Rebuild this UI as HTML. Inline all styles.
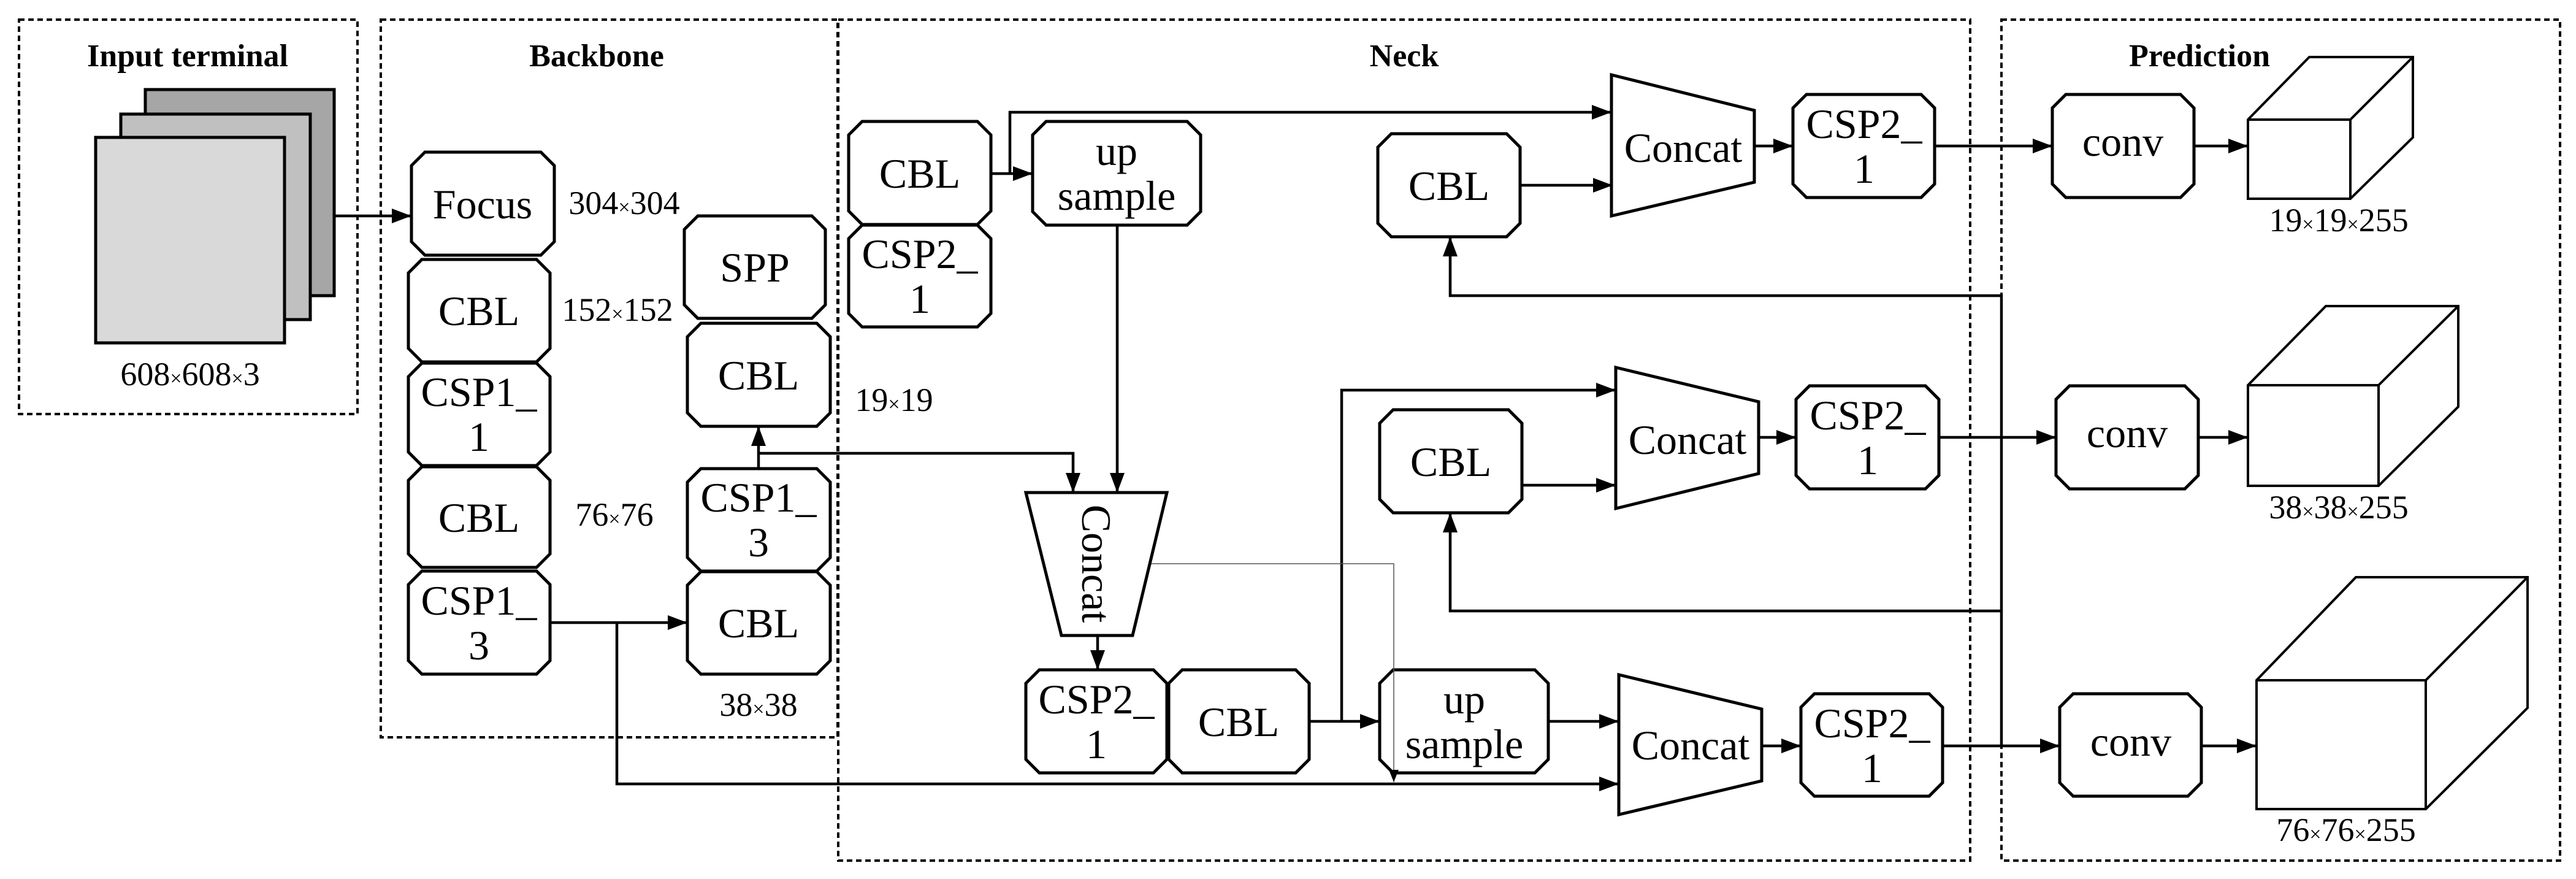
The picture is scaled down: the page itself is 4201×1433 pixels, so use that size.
<!DOCTYPE html>
<html><head><meta charset="utf-8"><style>
html,body{margin:0;padding:0;background:#fff}
svg{display:block}
text{font-family:"Liberation Serif",serif;fill:#000}
.t{font-size:68px;text-anchor:middle}
.h{font-size:52px;font-weight:bold;text-anchor:middle}
.s{font-size:54px;text-anchor:middle}
.x{font-size:34px}
.o{fill:#fff;stroke:#000;stroke-width:5}
.l{fill:none;stroke:#000;stroke-width:4.5}
.d{fill:none;stroke:#000;stroke-width:4;stroke-dasharray:9 6}
</style></head><body>
<svg width="4201" height="1433" viewBox="0 0 4201 1433" xmlns="http://www.w3.org/2000/svg">
<defs>
<marker id="a" markerUnits="userSpaceOnUse" markerWidth="34" markerHeight="26" refX="32" refY="12" orient="auto"><path d="M0,0 L32,12 L0,24 z" fill="#000"/></marker>
<marker id="b" markerUnits="userSpaceOnUse" markerWidth="22" markerHeight="18" refX="20" refY="8" orient="auto"><path d="M0,0 L20,8 L0,16 z" fill="#000"/></marker>
</defs>
<rect class="d" x="31" y="32" width="552" height="643"/>
<rect class="d" x="621" y="32" width="745" height="1170"/>
<rect class="d" x="1367" y="32" width="1846" height="1371"/>
<rect class="d" x="3264" y="32" width="911" height="1371"/>
<text class="h" x="306" y="108">Input terminal</text>
<text class="h" x="973" y="108">Backbone</text>
<text class="h" x="2290" y="108">Neck</text>
<text class="h" x="3587" y="108">Prediction</text>
<rect x="237" y="146" width="308" height="336" fill="#a6a6a6" stroke="#000" stroke-width="5"/>
<rect x="197" y="186" width="309" height="335" fill="#c0c0c0" stroke="#000" stroke-width="5"/>
<rect x="156" y="224" width="308" height="335" fill="#d9d9d9" stroke="#000" stroke-width="5"/>
<text class="s" x="310" y="628">608<tspan class="x">×</tspan>608<tspan class="x">×</tspan>3</text>

<g class="l">
<path d="M545,352 H671" marker-end="url(#a)"/>
<path d="M897,1015 H1121" marker-end="url(#a)"/>
<path d="M1006,1015 V1278 H2640" marker-end="url(#a)"/>
<path d="M1237,764 V695" marker-end="url(#a)"/>
<path d="M1237,739 H1750 V803" marker-end="url(#a)"/>
<path d="M1616,283 H1684" marker-end="url(#a)"/>
<path d="M1647,283 V183 H2628" marker-end="url(#a)"/>
<path d="M1822,367 V803" marker-end="url(#a)"/>
<path d="M1790,1036 V1092" marker-end="url(#a)"/>
<path d="M2135,1176 H2250" marker-end="url(#a)"/>
<path d="M2188,1176 V636 H2635" marker-end="url(#a)"/>
<path d="M2525,1176 H2640" marker-end="url(#a)"/>
<path d="M2479,302 H2630" marker-end="url(#a)"/>
<path d="M2482,791 H2635" marker-end="url(#a)"/>
<path d="M3264,1216 V482 H2365 V386" marker-end="url(#a)"/>
<path d="M3264,996 H2365 V836" marker-end="url(#a)"/>
<path d="M2861,238 H2924" marker-end="url(#a)"/>
<path d="M2868,713 H2929" marker-end="url(#a)"/>
<path d="M2873,1216 H2937" marker-end="url(#a)"/>
<path d="M3155,238 H3347" marker-end="url(#a)"/>
<path d="M3162,713 H3353" marker-end="url(#a)"/>
<path d="M3168,1216 H3359" marker-end="url(#a)"/>
<path d="M3578,238 H3666" marker-end="url(#a)"/>
<path d="M3585,713 H3666" marker-end="url(#a)"/>
<path d="M3590,1216 H3680" marker-end="url(#a)"/>
</g>

<polygon class="o" points="693,248 882,248 904,270 904,394 882,416 693,416 671,394 671,270"/>
<polygon class="o" points="688,423 875,423 897,445 897,568 875,590 688,590 666,568 666,445"/>
<polygon class="o" points="688,592 875,592 897,614 897,737 875,759 688,759 666,737 666,614"/>
<polygon class="o" points="688,761 875,761 897,783 897,903 875,925 688,925 666,903 666,783"/>
<polygon class="o" points="688,931 875,931 897,953 897,1077 875,1099 688,1099 666,1077 666,953"/>
<polygon class="o" points="1138,352 1324,352 1346,374 1346,497 1324,519 1138,519 1116,497 1116,374"/>
<polygon class="o" points="1143,527 1332,527 1354,549 1354,673 1332,695 1143,695 1121,673 1121,549"/>
<polygon class="o" points="1143,764 1332,764 1354,786 1354,909 1332,931 1143,931 1121,909 1121,786"/>
<polygon class="o" points="1143,932 1332,932 1354,954 1354,1077 1332,1099 1143,1099 1121,1077 1121,954"/>
<text class="t" x="787" y="356">Focus</text>
<text class="t" x="781" y="530">CBL</text>
<text class="t" x="781" y="662">CSP1_</text><text class="t" x="781" y="735">1</text>
<text class="t" x="781" y="867">CBL</text>
<text class="t" x="781" y="1002">CSP1_</text><text class="t" x="781" y="1075">3</text>
<text class="t" x="1231" y="459">SPP</text>
<text class="t" x="1237" y="635">CBL</text>
<text class="t" x="1237" y="834">CSP1_</text><text class="t" x="1237" y="907">3</text>
<text class="t" x="1237" y="1039">CBL</text>
<text class="s" x="1018" y="349">304<tspan class="x">×</tspan>304</text>
<text class="s" x="1007" y="523">152<tspan class="x">×</tspan>152</text>
<text class="s" x="1002" y="857">76<tspan class="x">×</tspan>76</text>
<text class="s" x="1237" y="1167">38<tspan class="x">×</tspan>38</text>
<text class="s" x="1458" y="670">19<tspan class="x">×</tspan>19</text>

<polygon class="o" points="1406,198 1594,198 1616,220 1616,344 1594,366 1406,366 1384,344 1384,220"/>
<polygon class="o" points="1406,367 1594,367 1616,389 1616,511 1594,533 1406,533 1384,511 1384,389"/>
<polygon class="o" points="1706,198 1936,198 1958,220 1958,345 1936,367 1706,367 1684,345 1684,220"/>
<polygon class="o" points="1695,1092 1881,1092 1903,1114 1903,1238 1881,1260 1695,1260 1673,1238 1673,1114"/>
<polygon class="o" points="1928,1092 2113,1092 2135,1114 2135,1238 2113,1260 1928,1260 1906,1238 1906,1114"/>
<polygon class="o" points="2272,1092 2503,1092 2525,1114 2525,1238 2503,1260 2272,1260 2250,1238 2250,1114"/>
<polygon class="o" points="2269,218 2457,218 2479,240 2479,364 2457,386 2269,386 2247,364 2247,240"/>
<polygon class="o" points="2272,668 2460,668 2482,690 2482,814 2460,836 2272,836 2250,814 2250,690"/>
<text class="t" x="1500" y="306">CBL</text>
<text class="t" x="1500" y="437">CSP2_</text><text class="t" x="1500" y="510">1</text>
<text class="t" x="1821" y="269">up</text><text class="t" x="1821" y="342">sample</text>
<text class="t" x="1788" y="1163">CSP2_</text><text class="t" x="1788" y="1236">1</text>
<text class="t" x="2020" y="1200">CBL</text>
<text class="t" x="2388" y="1163">up</text><text class="t" x="2388" y="1236">sample</text>
<text class="t" x="2363" y="326">CBL</text>
<text class="t" x="2366" y="776">CBL</text>
<path d="M1877,919 H2273 V1275" fill="none" stroke="#555" stroke-width="1.5" marker-end="url(#b)"/>

<polygon class="o" points="1673,803 1903,803 1847,1036 1731,1036"/>
<text class="t" transform="translate(1765,919) rotate(90)" x="0" y="0">Concat</text>
<polygon class="o" points="2628,122 2861,180 2861,297 2628,352"/>
<text class="t" x="2745" y="264">Concat</text>
<polygon class="o" points="2635,599 2868,655 2868,772 2635,829"/>
<text class="t" x="2752" y="740">Concat</text>
<polygon class="o" points="2640,1100 2873,1156 2873,1273 2640,1328"/>
<text class="t" x="2757" y="1238">Concat</text>

<polygon class="o" points="2946,154 3133,154 3155,176 3155,300 3133,322 2946,322 2924,300 2924,176"/>
<polygon class="o" points="2951,629 3140,629 3162,651 3162,775 3140,797 2951,797 2929,775 2929,651"/>
<polygon class="o" points="2959,1131 3146,1131 3168,1153 3168,1276 3146,1298 2959,1298 2937,1276 2937,1153"/>
<text class="t" x="3040" y="225">CSP2_</text><text class="t" x="3040" y="298">1</text>
<text class="t" x="3046" y="700">CSP2_</text><text class="t" x="3046" y="773">1</text>
<text class="t" x="3053" y="1202">CSP2_</text><text class="t" x="3053" y="1275">1</text>
<polygon class="o" points="3369,154 3556,154 3578,176 3578,300 3556,322 3369,322 3347,300 3347,176"/>
<polygon class="o" points="3375,629 3563,629 3585,651 3585,775 3563,797 3375,797 3353,775 3353,651"/>
<polygon class="o" points="3381,1131 3568,1131 3590,1153 3590,1276 3568,1298 3381,1298 3359,1276 3359,1153"/>
<text class="t" x="3462" y="254">conv</text>
<text class="t" x="3469" y="729">conv</text>
<text class="t" x="3475" y="1232">conv</text>
<g fill="#fff" stroke="#000" stroke-width="4">
<polygon points="3666,195 3766,93 3935,93 3935,224 3833,324 3666,324"/>
<path d="M3666,195 H3833 V324 M3833,195 L3935,93" fill="none"/>
<polygon points="3666,628 3793,499 4009,499 4009,663 3879,792 3666,792"/>
<path d="M3666,628 H3879 V792 M3879,628 L4009,499" fill="none"/>
<polygon points="3680,1109 3842,941 4122,941 4122,1154 3956,1319 3680,1319"/>
<path d="M3680,1109 H3956 V1319 M3956,1109 L4122,941" fill="none"/>
</g>
<text class="s" x="3814" y="377">19<tspan class="x">×</tspan>19<tspan class="x">×</tspan>255</text>
<text class="s" x="3814" y="845">38<tspan class="x">×</tspan>38<tspan class="x">×</tspan>255</text>
<text class="s" x="3826" y="1371">76<tspan class="x">×</tspan>76<tspan class="x">×</tspan>255</text>
</svg>
</body></html>
